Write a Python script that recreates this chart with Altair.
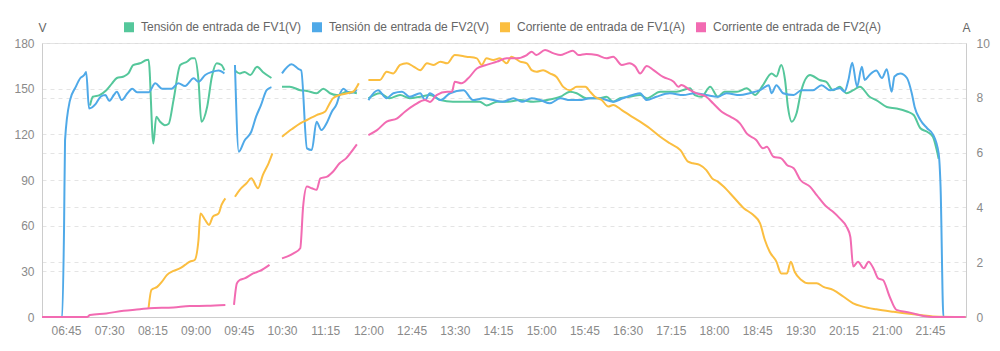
import altair as alt
import pandas as pd

SERIES = ["Tensión de entrada de FV1(V)", "Tensión de entrada de FV2(V)",
          "Corriente de entrada de FV1(A)", "Corriente de entrada de FV2(A)"]
COLORS = ["#55C79B", "#4FA9E8", "#FBBE40", "#F26BB2"]

# None marks a gap (no data) in the record
fv1_v_t = ["07:10", "07:13", "07:20", "07:27", "07:33", "07:38", "07:45", "07:50", "07:55", "08:02",
           "08:09", "08:11", "08:16", "08:19", "08:23", "08:28", "08:32", "08:37", "08:44", "08:51",
           "08:56", "08:59", "09:03", "09:06", "09:12", "09:17", "09:22", "09:27", "09:30", "09:35",
           "09:41", "09:46", "09:51", "09:57", "10:04", "10:10", "10:19", "10:25",
           "10:30", "10:38", "10:49", "10:56", "11:06", "11:13", "11:20", "11:27", "11:30", "11:37", "11:48", "11:54",
           "12:00", "12:12", "12:22", "12:33", "12:43", "12:54", "13:04", "13:15", "13:28", "13:42",
           "13:56", "14:03", "14:14", "14:24", "14:38", "14:52", "15:06", "15:20", "15:30", "15:37",
           "15:47", "16:01", "16:08", "16:15", "16:22", "16:32", "16:43", "16:50", "17:04", "17:21",
           "17:35", "17:40", "17:47", "17:56", "18:04", "18:11", "18:24", "18:34", "18:43", "18:51",
           "19:00", "19:05", "19:10", "19:14", "19:17", "19:21", "19:26", "19:31", "19:40", "19:50",
           "19:57", "20:04", "20:11", "20:18", "20:25", "20:32", "20:42", "20:49", "21:00", "21:10",
           "21:21", "21:28", "21:35", "21:42", "21:48", "21:52", "21:54"]
fv1_v = [139, 144.7, 145.8, 149, 153.5, 157, 158, 160, 165.5, 166.7,
         168.8, 169, 114, 131.6, 128.3, 126, 127, 142.5, 165.5, 167.7,
         170, 170, 155.7, 128.3, 138, 158, 166.7, 165.5, 162, None,
         162, 160, 161, 159, 164.4, 161, 157, None,
         151.3, 151.3, 149, 148.5, 147, 150, 147, 145.8, 146, 148, 147, None,
         143.7, 147, 143.7, 145.8, 143.7, 144.7, 145.8, 142.5, 141.4, 141.4,
         141.4, 139, 141.4, 141.4, 142.5, 141.4, 142.5, 144.7, 148, 147,
         143.7, 143.7, 144.7, 141.4, 143.7, 144.7, 145.8, 143.7, 148, 148,
         150.2, 145.8, 144.7, 151.3, 144.7, 148, 148, 150.2, 145.8, 152.3,
         160, 158, 165.5, 155.7, 138, 128.3, 133.8, 149, 159, 155.7,
         154.5, 149, 151.3, 147, 149, 151.3, 144.7, 142.5, 138, 137,
         135, 132.7, 124, 121.7, 118.4, 109.7, 104]

fv2_v_t = ["06:20", "06:41", "06:43", "06:44", "06:49", "06:55", "07:00", "07:04", "07:06", "07:09",
           "07:16", "07:21", "07:26", "07:30", "07:35", "07:38", "07:43", "07:49", "07:54", "07:59",
           "08:11", "08:18", "08:25", "08:35", "08:42", "08:49", "08:58", "09:03", "09:10", "09:17",
           "09:24", "09:30", "09:35",
           "09:41", "09:45", "09:51", "09:58", "10:03", "10:08", "10:14", "10:19", "10:25",
           "10:30", "10:40", "10:47", "10:50", "10:56", "11:01", "11:06", "11:11", "11:17", "11:22",
           "11:27", "11:30", "11:34", "11:40", "11:48", "11:54",
           "12:00", "12:10", "12:19", "12:26", "12:35", "12:43", "12:54", "12:59", "13:04", "13:15",
           "13:25", "13:39", "13:49", "14:00", "14:10", "14:20", "14:31", "14:40", "14:50", "14:59",
           "15:09", "15:20", "15:30", "15:40", "15:51", "16:01", "16:15", "16:25", "16:36", "16:43",
           "16:50", "17:00", "17:14", "17:28", "17:40", "17:52", "18:04", "18:13", "18:27", "18:37",
           "18:48", "18:57", "19:00", "19:05", "19:12", "19:23", "19:31", "19:43", "19:52", "20:01",
           "20:11", "20:16", "20:20", "20:24", "20:29", "20:34", "20:37", "20:42", "20:49", "20:55",
           "21:00", "21:05", "21:08", "21:14", "21:21", "21:26", "21:29", "21:35", "21:42", "21:48",
           "21:54", "21:56", "21:59", "22:22"]
fv2_v = [0, 0, 60, 116, 142, 151, 157, 159, 161, 137,
         140, 144.7, 145.8, 142, 146, 148, 142.5, 147, 150, 147.6,
         147.6, 153.5, 150, 150, 153.5, 151.7, 156.8, 154.5, 159, 161,
         162, 160, None,
         165.5, 108.6, 116, 121.7, 131.6, 139, 149, 151, None,
         160, 166, 163, 162, 110.8, 109.7, 128.3, 122.8, 128, 135,
         140, 146, 150, 147, 149, None,
         142.5, 149, 143.7, 147, 148, 144.7, 147, 142.5, 147, 142.5,
         147, 149, 142.5, 143.7, 142.5, 141.4, 143.7, 141.4, 143.7, 142.5,
         140.4, 143.7, 142.5, 142.5, 143.7, 143.7, 141.4, 143.7, 146, 147,
         142.5, 144.7, 147, 145.8, 147, 145.8, 144.7, 147, 145.8, 147,
         149, 152.3, 147, 152.3, 147, 145.8, 149, 149, 152.3, 149,
         150.2, 148, 155.7, 167, 151.3, 164.4, 155.7, 159, 162, 157,
         162.7, 148, 158, 160, 157, 147, 138, 129.4, 124, 120,
         107.5, 85.6, 0, 0]

fv1_a_t = ["08:11", "08:14", "08:20", "08:25", "08:30", "08:37", "08:44", "08:49", "08:54", "08:59",
           "09:03", "09:05", "09:10", "09:14", "09:18", "09:24", "09:27", "09:31", "09:35",
           "09:41", "09:46", "09:53", "09:58", "10:05", "10:10", "10:16", "10:20", "10:25",
           "10:30", "10:40", "10:49", "10:56", "11:06", "11:15", "11:18", "11:23", "11:30", "11:37",
           "11:44", "11:50", "11:54",
           "12:00", "12:12", "12:19", "12:26", "12:33", "12:40", "12:47", "12:54", "13:01", "13:08",
           "13:15", "13:22", "13:30", "13:42", "13:53", "13:58", "14:03", "14:10", "14:17", "14:24",
           "14:29", "14:38", "14:45", "14:50", "14:55", "15:02", "15:09", "15:16", "15:23", "15:30",
           "15:37", "15:46", "15:51", "15:56", "16:03", "16:10", "16:15", "16:24", "16:32", "16:43",
           "16:53", "17:04", "17:14", "17:25", "17:33", "17:38", "17:45", "17:52", "17:58", "18:04",
           "18:10", "18:20", "18:31", "18:41", "18:48", "18:53", "18:58", "19:05", "19:10", "19:16",
           "19:20", "19:24", "19:31", "19:38", "19:47", "19:54", "20:04", "20:15", "20:25", "20:35",
           "20:49", "21:07", "21:21", "21:35", "21:48", "22:22"]
fv1_a = [0.32, 0.99, 1.1, 1.29, 1.53, 1.68, 1.78, 1.9, 2.02, 2.08,
         2.81, 3.78, 3.54, 3.36, 3.66, 3.78, 4.09, 4.33, None,
         4.39, 4.64, 4.88, 5.06, 4.7, 5.18, 5.61, 5.97, None,
         6.58, 6.85, 7.07, 7.19, 7.37, 7.5, 7.68, 7.98, 8.1, 8.16,
         8.22, 8.53, None,
         8.65, 8.65, 8.95, 8.89, 9.2, 9.26, 9.14, 9.01, 9.26, 9.2,
         9.32, 9.26, 9.56, 9.5, 9.44, 9.2, 9.44, 9.38, 9.44, 9.26,
         9.5, 9.32, 9.26, 9.01, 8.95, 9.01, 8.89, 8.76, 8.4, 8.28,
         8.4, 8.4, 8.22, 8.04, 7.92, 7.68, 7.74, 7.55, 7.37, 7.13,
         6.89, 6.58, 6.34, 6.09, 5.67, 5.61, 5.55, 5.36, 5.06, 4.94,
         4.76, 4.39, 3.97, 3.72, 3.42, 2.81, 2.38, 2.02, 1.59, 1.59,
         2.02, 1.65, 1.35, 1.23, 1.23, 1.1, 0.99, 0.74, 0.5, 0.38,
         0.28, 0.19, 0.13, 0.07, 0.02, 0]

fv2_a_t = ["06:20", "07:07", "07:10", "07:27", "07:45", "08:02", "08:12", "08:37", "08:54", "09:12",
           "09:31", "09:35",
           "09:40", "09:43", "09:46", "09:51", "10:00", "10:07", "10:17", "10:25",
           "10:30", "10:42", "10:49", "10:52", "10:56", "11:01", "11:06", "11:10", "11:17", "11:23",
           "11:30", "11:37", "11:41", "11:48", "11:54",
           "12:00", "12:09", "12:19", "12:30", "12:38", "12:48", "12:59", "13:04", "13:11", "13:22",
           "13:27", "13:30", "13:37", "13:44", "13:53", "14:03", "14:14", "14:24", "14:34", "14:45",
           "14:50", "14:55", "15:04", "15:13", "15:20", "15:27", "15:33", "15:39", "15:47", "15:58",
           "16:08", "16:15", "16:24", "16:32", "16:38", "16:43", "16:50", "16:57", "17:07", "17:18",
           "17:23", "17:26", "17:35", "17:42", "17:52", "17:59", "18:08", "18:17", "18:27", "18:34",
           "18:44", "18:51", "18:55", "19:02", "19:10", "19:16", "19:23", "19:30", "19:40", "19:47",
           "19:57", "20:04", "20:11", "20:18", "20:22", "20:25", "20:30", "20:36", "20:41", "20:46",
           "20:51", "20:56", "21:03", "21:10", "21:24", "21:38", "21:48", "22:22"]
fv2_a = [0, 0, 0.07, 0.13, 0.23, 0.28, 0.32, 0.35, 0.4, 0.41,
         0.44, None,
         0.44, 1.23, 1.35, 1.41, 1.59, 1.68, 1.9, None,
         2.14, 2.32, 2.51, 4.03, 4.76, 4.7, 4.64, 5.06, 5.12, 5.3,
         5.61, 5.8, 5.97, 6.3, None,
         6.64, 6.82, 7.13, 7.25, 7.49, 7.74, 7.92, 7.85, 8.1, 8.22,
         8.22, 8.59, 8.53, 8.71, 9.07, 9.2, 9.32, 9.44, 9.44, 9.56,
         9.68, 9.56, 9.74, 9.62, 9.56, 9.65, 9.72, 9.56, 9.6, 9.56,
         9.44, 9.5, 9.2, 9.26, 9.14, 8.89, 9.16, 9.01, 8.76, 8.59,
         8.4, 8.47, 8.28, 8.16, 8.04, 7.8, 7.49, 7.31, 7.07, 6.7,
         6.46, 6.16, 6.21, 5.85, 5.79, 5.55, 5.43, 5.0, 4.76, 4.45,
         4.03, 3.84, 3.6, 3.3, 2.93, 1.84, 2.02, 1.78, 2.02, 1.78,
         1.41, 1.35, 0.74, 0.26, 0.16, 0.04, 0, 0]


def to_rows(name, times, vals):
    rows, seg = [], 0
    for t, v in zip(times, vals):
        if v is None:
            seg += 1
            continue
        h, m = t.split(":")
        rows.append({"serie": name, "seg": f"{name}#{seg}", "min": int(h) * 60 + int(m), "val": v})
    return rows


volt = pd.DataFrame(to_rows(SERIES[0], fv1_v_t, fv1_v) + to_rows(SERIES[1], fv2_v_t, fv2_v))
amp = pd.DataFrame(to_rows(SERIES[2], fv1_a_t, fv1_a) + to_rows(SERIES[3], fv2_a_t, fv2_a))

tick_min = list(range(405, 1306, 45))
FONT = "Liberation Sans"

x_enc = alt.X(
    "min:Q",
    scale=alt.Scale(domain=[380, 1342.5], nice=False, zero=False),
    axis=alt.Axis(values=tick_min, grid=False, ticks=False, title=None,
                  labelExpr="format(floor(datum.value/60),'02d') + ':' + format(datum.value%60,'02d')",
                  labelColor="#8a8a8a", labelFontSize=12, labelFont=FONT, labelPadding=8,
                  domainColor="#cccccc", labelFlush=False),
)

legend = alt.Legend(orient="none", legendX=81, legendY=-22, direction="horizontal", title=None,
                    symbolType="square", symbolSize=25, symbolStrokeWidth=5,
                    labelFontSize=12, labelFont=FONT, labelColor="#666666", labelLimit=400,
                    columnPadding=2, labelOffset=6, padding=0)
color_enc = alt.Color("serie:N", scale=alt.Scale(domain=SERIES, range=COLORS), legend=legend)

left = alt.Chart(volt).mark_line(interpolate="monotone", strokeWidth=2).encode(
    x=x_enc,
    y=alt.Y("val:Q", scale=alt.Scale(domain=[0, 180], nice=False),
            axis=alt.Axis(orient="left", values=[0, 30, 60, 90, 120, 150, 180], title="V",
                          titleAngle=0, titleX=0, titleY=-16, titleAlign="center", titleBaseline="middle",
                          titleFontWeight="normal", titleColor="#666666", titleFontSize=12, titleFont=FONT,
                          grid=True, gridDash=[4, 4], gridColor="#e4e4e4", ticks=False,
                          domainColor="#cccccc", labelColor="#8a8a8a", labelFontSize=12,
                          labelFont=FONT, labelPadding=8)),
    color=color_enc,
    detail="seg:N",
)

right = alt.Chart(amp).mark_line(interpolate="monotone", strokeWidth=2).encode(
    x=x_enc,
    y=alt.Y("val:Q", scale=alt.Scale(domain=[0, 10], nice=False),
            axis=alt.Axis(orient="right", values=[0, 2, 4, 6, 8, 10], title="A",
                          titleAngle=0, titleX=0, titleY=-16, titleAlign="center", titleBaseline="middle",
                          titleFontWeight="normal", titleColor="#666666", titleFontSize=12, titleFont=FONT,
                          grid=True, gridDash=[4, 4], gridColor="#e4e4e4", ticks=False,
                          domainColor="#cccccc", labelColor="#8a8a8a", labelFontSize=12,
                          labelFont=FONT, labelPadding=10)),
    color=color_enc,
    detail="seg:N",
)

chart = alt.layer(left, right).resolve_scale(y="independent").properties(
    width=924, height=274,
    autosize=alt.AutoSizeParams(type="none"),
    padding={"left": 42, "top": 43, "right": 34, "bottom": 34},
).configure_view(stroke=None).configure(background="white")

chart.save("out.html", embed_options={"renderer": "svg", "actions": False})
